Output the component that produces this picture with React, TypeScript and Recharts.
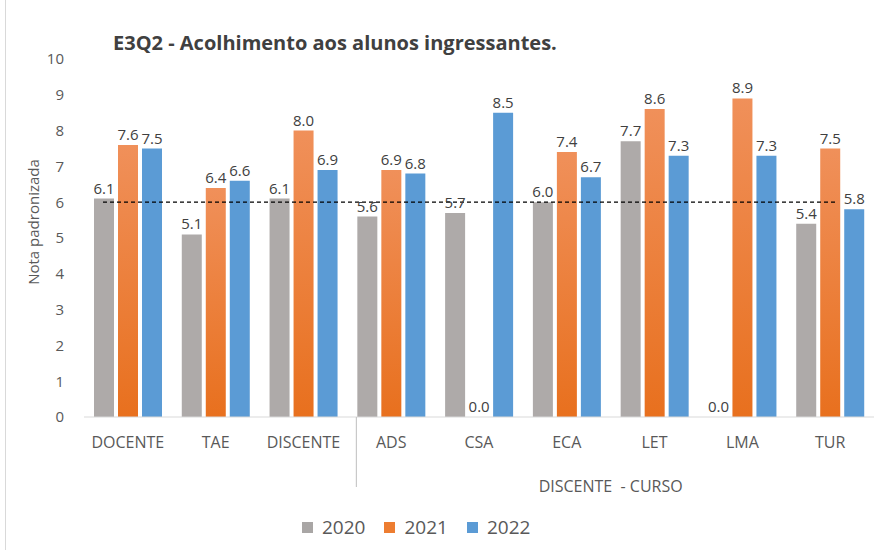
import React from 'react';
import { ComposedChart, Bar, Line, XAxis, YAxis, LabelList, Legend } from 'recharts';

const categories = ['DOCENTE', 'TAE', 'DISCENTE', 'ADS', 'CSA', 'ECA', 'LET', 'LMA', 'TUR'];
const values2020 = [6.1, 5.1, 6.1, 5.6, 5.7, 6.0, 7.7, 0.0, 5.4];
const values2021 = [7.6, 6.4, 8.0, 6.9, 0.0, 7.4, 8.6, 8.9, 7.5];
const values2022 = [7.5, 6.6, 6.9, 6.8, 8.5, 6.7, 7.3, 7.3, 5.8];
const referenceLevel = [6, 6, 6, 6, 6, 6, 6, 6, 6];
const yTicks = [0, 1, 2, 3, 4, 5, 6, 7, 8, 9, 10];
const groupLabel = 'DISCENTE  - CURSO';
const title = 'E3Q2 - Acolhimento aos alunos ingressantes.';
const yLabel = 'Nota padronizada';

const data = categories.map((c, i) => ({
  name: c,
  y2020: values2020[i],
  y2021: values2021[i],
  y2022: values2022[i],
  meta: referenceLevel[i],
}));

const W = 875;
const H = 550;
const M = { top: 59, right: 1, left: 0, bottom: 43 };
const YAXIS_W = 84;
const PLOT_W = W - M.left - M.right - YAXIS_W;
const BAND = PLOT_W / categories.length;
const FONT = '"Open Sans", sans-serif';

const CustomTick = (props: any) => {
  const { x, y, payload } = props;
  const idx = payload?.index ?? props.index;
  return (
    <g>
      <text x={x} y={y} dy="0.71em" textAnchor="middle" fill="#595959" fontSize={16} fontFamily={FONT}>
        {payload.value}
      </text>
      {idx === 3 && (
        <line x1={x - BAND / 2 + 9} x2={x - BAND / 2 + 9} y1={y - 20} y2={y + 50} stroke="#BFBFBF" strokeWidth={1} />
      )}
      {idx === 5 && (
        <text x={x + BAND / 2} y={y + 44} dy="0.71em" textAnchor="middle" fill="#595959" fontSize={16} fontFamily={FONT} style={{ whiteSpace: 'pre' }}>
          {groupLabel}
        </text>
      )}
    </g>
  );
};

const legendItems = [
  { label: '2020', color: '#A9A6A5' },
  { label: '2021', color: '#ED7D31' },
  { label: '2022', color: '#5B9BD5' },
];

const LegendContent = () => (
  <div style={{ height: 30, display: 'flex', justifyContent: 'flex-start', alignItems: 'center', paddingLeft: 302, fontFamily: FONT }}>
    {legendItems.map((it) => (
      <div key={it.label} style={{ display: 'flex', alignItems: 'center', marginRight: 19 }}>
        <div style={{ width: 11, height: 11, background: it.color, marginRight: 9 }} />
        <span style={{ fontSize: 19, color: '#595959' }}>{it.label}</span>
      </div>
    ))}
  </div>
);

const fmt = (v: any) => Number(v).toFixed(1);

const YLabel = () => (
  <text x={33} y={222} transform="rotate(-90 33 222)" textAnchor="middle" dominantBaseline="central" fill="#595959" fontSize={15} fontFamily={FONT}>
    {yLabel}
  </text>
);

export default function App() {
  return (
    <div style={{ position: 'absolute', left: 0, top: 0, width: W, height: H, background: '#fff' }}>
      <div style={{ position: 'absolute', left: 5, top: 0, width: 1, height: H, background: '#D9D9D9' }} />
      <div
        style={{
          position: 'absolute',
          left: 113,
          top: 29,
          fontFamily: FONT,
          fontWeight: 700,
          fontSize: 20,
          color: '#404040',
          whiteSpace: 'nowrap',
          zIndex: 2,
        }}
      >
        {title}
      </div>
      <ComposedChart width={W} height={H} data={data} margin={M} barGap={4} barCategoryGap="11%">
        <defs>
          <linearGradient id="orangeGrad" x1="0" y1="0" x2="0" y2="1">
            <stop offset="0%" stopColor="#F0905A" />
            <stop offset="100%" stopColor="#E8701E" />
          </linearGradient>
        </defs>
        <XAxis
          dataKey="name"
          height={60}
          interval={0}
          tickLine={false}
          tickMargin={14}
          axisLine={{ stroke: '#D9D9D9' }}
          tick={<CustomTick />}
        />
        <XAxis xAxisId="ref" dataKey="name" hide scale="point" padding={{ left: 19, right: 38 }} />
        <YAxis
          width={YAXIS_W}
          domain={[0, 10]}
          ticks={yTicks}
          axisLine={false}
          tickLine={false}
          tickMargin={14}
          tick={{ fill: '#595959', fontSize: 15, fontFamily: FONT }}
          label={<YLabel />}
        />
        <Legend
          verticalAlign="bottom"
          content={<LegendContent />}
          wrapperStyle={{ top: 512, bottom: 'auto', left: 0, width: W }}
        />
        <Bar dataKey="y2020" fill="#AEAAA9" barSize={20} minPointSize={0.01} isAnimationActive={false}>
          <LabelList dataKey="y2020" position="top" formatter={fmt} fill="#404040" fontSize={15} fontFamily={FONT} />
        </Bar>
        <Bar dataKey="y2021" fill="url(#orangeGrad)" barSize={20} minPointSize={0.01} isAnimationActive={false}>
          <LabelList dataKey="y2021" position="top" formatter={fmt} fill="#404040" fontSize={15} fontFamily={FONT} />
        </Bar>
        <Bar dataKey="y2022" fill="#5B9BD5" barSize={20} minPointSize={0.01} isAnimationActive={false}>
          <LabelList dataKey="y2022" position="top" formatter={fmt} fill="#404040" fontSize={15} fontFamily={FONT} />
        </Bar>
        <Line
          xAxisId="ref"
          dataKey="meta"
          stroke="#000"
          strokeWidth={1.2}
          strokeDasharray="4 3"
          dot={false}
          activeDot={false}
          legendType="none"
          isAnimationActive={false}
        />
      </ComposedChart>
    </div>
  );
}
